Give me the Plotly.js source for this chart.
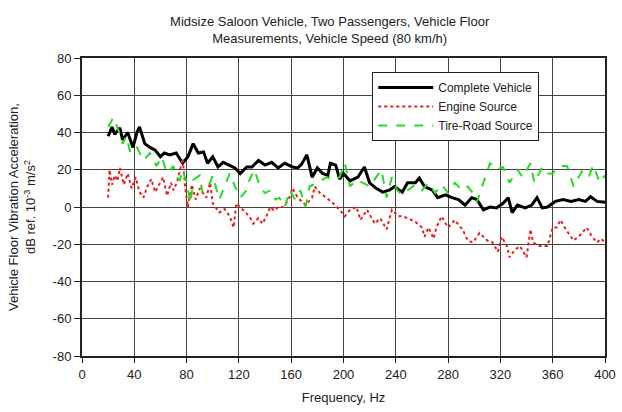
<!DOCTYPE html>
<html>
<head>
<meta charset="utf-8">
<script src="https://cdn.plot.ly/plotly-3.0.1.min.js"></script>
<style>html,body{margin:0;padding:0;background:#fff}#chart{width:622px;height:412px}</style>
</head>
<body>
<div id="chart"></div>
<script>
// Complete Vehicle
const completeFreq = [20,23,25,29,31,35,39,42,44,48,52,56,60,63,67,72,77,81,85,89,93,96,100,104,108,112,117,121,126,130,135,140,145,150,155,161,165,168,172,176,180,184,188,190,194,197,200,205,211,216,220,225,230,235,239,245,249,255,258,262,268,272,278,283,288,293,298,302,307,312,317,322,326,329,333,339,344,348,352,356,362,368,374,380,385,389,394,400];
const completeDb = [38,43,39,42.5,36,40,32,40,43,34,32,30.5,27,29,28,29,23.5,27,34,29,29.5,23.5,27,21.5,24,22.5,21,18,21.5,21.5,25,22.5,24,21,23.5,21.5,21,23,28,16,21,18,17,23.5,22.5,15,18,14,16,21.5,13,10,8,9,11,8,13,13,15.5,11,9,5,6.5,5,4,1,5,4,-1.5,0,-0.5,2,5,-3,1,-0.5,1,5,-0.5,0,3,4,3,4,3,5.5,3,2.5];

// Engine Source
const engineFreq = [20,21,23,25,27,29,32,35,38,41,44,47,50,53,56,59,62,65,68,70,73,77,79,81,84,87,90,93,95,98,100,105,109,113,116,118,123,128,131,135,138,141,144,147,150,154,158,161,165,171,176,178,182,187,192,197,201,205,210,213,218,224,228,233,237,242,245,249,255,260,262,265,269,271,275,280,285,291,295,299,304,310,314,318,321,325,327,331,335,340,343,345,350,356,360,363,366,370,376,381,386,390,394,397,400];
const engineDb = [5,20,12,17,14,21,12,18,10,16,8,5,11,15,8,12,16,6,13,9,14,26,10,0,12,4,10,7,5,13,2,-3,-1,-5,-11,2,-1.5,-5,-9,-6,-9,-5,0,-2,0,0,4,10,5,1,5,11,7.5,5,2,-1.5,-5,-1.5,0,-7,-1.5,-9,-6,-12,-1.5,-5,-5,-6,-8,-11,-16,-11,-17,-11,-5,-11,-7,-12,-18,-19,-14,-18,-19,-24,-16,-21,-27,-23,-21,-27,-12,-19,-21,-21,-11,-11,-7,-12,-18,-15,-11,-16,-19,-17,-19];

// Tire-Road Source
const tireFreq = [20,24,28,31,34,37,42,47,52,57,61,65,70,72,75,77,80,83,85,88,90,92,95,98,100,105,109,113,117,121,126,128,132,136,140,144,148,151,155,159,163,167,171,174,180,184,187,192,197,201,205,210,215,220,225,229,233,237,241,245,249,255,260,265,270,275,280,285,291,295,299,302,307,312,317,322,327,333,337,343,346,352,356,360,365,371,376,380,383,388,391,396,400];
const tireDb = [43,48,41,34,38,29,32,25,29,22,27,18,22,16,14.5,20,13,2,14.5,16,17,8,11,13,17,4,11,18,11,5,9,14.5,20,11,7.5,9,4,5,0,9,4,9,0,11,13,14.5,16,14.5,16,23.5,11,14.5,13,11,16,20,5,16,9,6.5,9,12,9,13,7.5,12,7.5,13,9,11,7.5,2.7,13,23.5,20,21.5,13,20,16,23.5,13,21.5,18,18,22,22,11,16,20,17,22.5,13,17];

const xTicks = [0,40,80,120,160,200,240,280,320,360,400];
const yTicks = [-80,-60,-40,-20,0,20,40,60,80];

const traces = [
  {x: completeFreq, y: completeDb, name: 'Complete Vehicle', mode: 'lines', type: 'scatter',
   line: {color: '#000000', width: 3}},
  {x: engineFreq, y: engineDb, name: 'Engine Source', mode: 'lines', type: 'scatter',
   line: {color: '#ee1c1c', width: 2, dash: 'dot'}},
  {x: tireFreq, y: tireDb, name: 'Tire-Road Source', mode: 'lines', type: 'scatter',
   line: {color: '#22dd22', width: 2, dash: 'dash'}}
];

const layout = {
  width: 622, height: 412,
  margin: {l: 82, r: 17, t: 58, b: 56},
  paper_bgcolor: '#ffffff', plot_bgcolor: '#ffffff',
  font: {family: 'Liberation Sans, Arial, sans-serif', size: 13, color: '#222'},
  title: {text: 'Midsize Saloon Vehicle, Two Passengers, Vehicle Floor<br>Measurements, Vehicle Speed (80 km/h)',
          font: {size: 13, color: '#222'}, xref: 'container', x: 0.53, xanchor: 'center',
          yref: 'container', y: 0.937, yanchor: 'middle'},
  xaxis: {range: [0, 400], tickvals: xTicks, ticktext: xTicks.map(String),
          showgrid: true, gridcolor: '#444', gridwidth: 1,
          showline: true, linecolor: '#222', linewidth: 2, mirror: true,
          ticks: 'outside', ticklen: 5, tickcolor: '#222', zeroline: false,
          title: {text: 'Frequency, Hz', font: {size: 13}, standoff: 12}},
  yaxis: {range: [-80, 80], tickvals: yTicks, ticktext: yTicks.map(String),
          showgrid: true, gridcolor: '#444', gridwidth: 1,
          showline: true, linecolor: '#222', linewidth: 2, mirror: true,
          ticks: 'outside', ticklen: 6, tickcolor: '#222', zeroline: false,
          title: {text: 'Vehicle Floor Vibration Acceleration,<br>dB ref. 10<sup>-3</sup> m/s<sup>2</sup>', font: {size: 13}, standoff: 14}},
  showlegend: true,
  legend: {x: 0.555, y: 0.953, xanchor: 'left', yanchor: 'top',
           bgcolor: '#ffffff', bordercolor: '#222', borderwidth: 1,
           font: {size: 12, color: '#222'}, itemwidth: 55, tracegroupgap: 0}
};

Plotly.newPlot('chart', traces, layout, {staticPlot: true, displayModeBar: false});
</script>
</body>
</html>
